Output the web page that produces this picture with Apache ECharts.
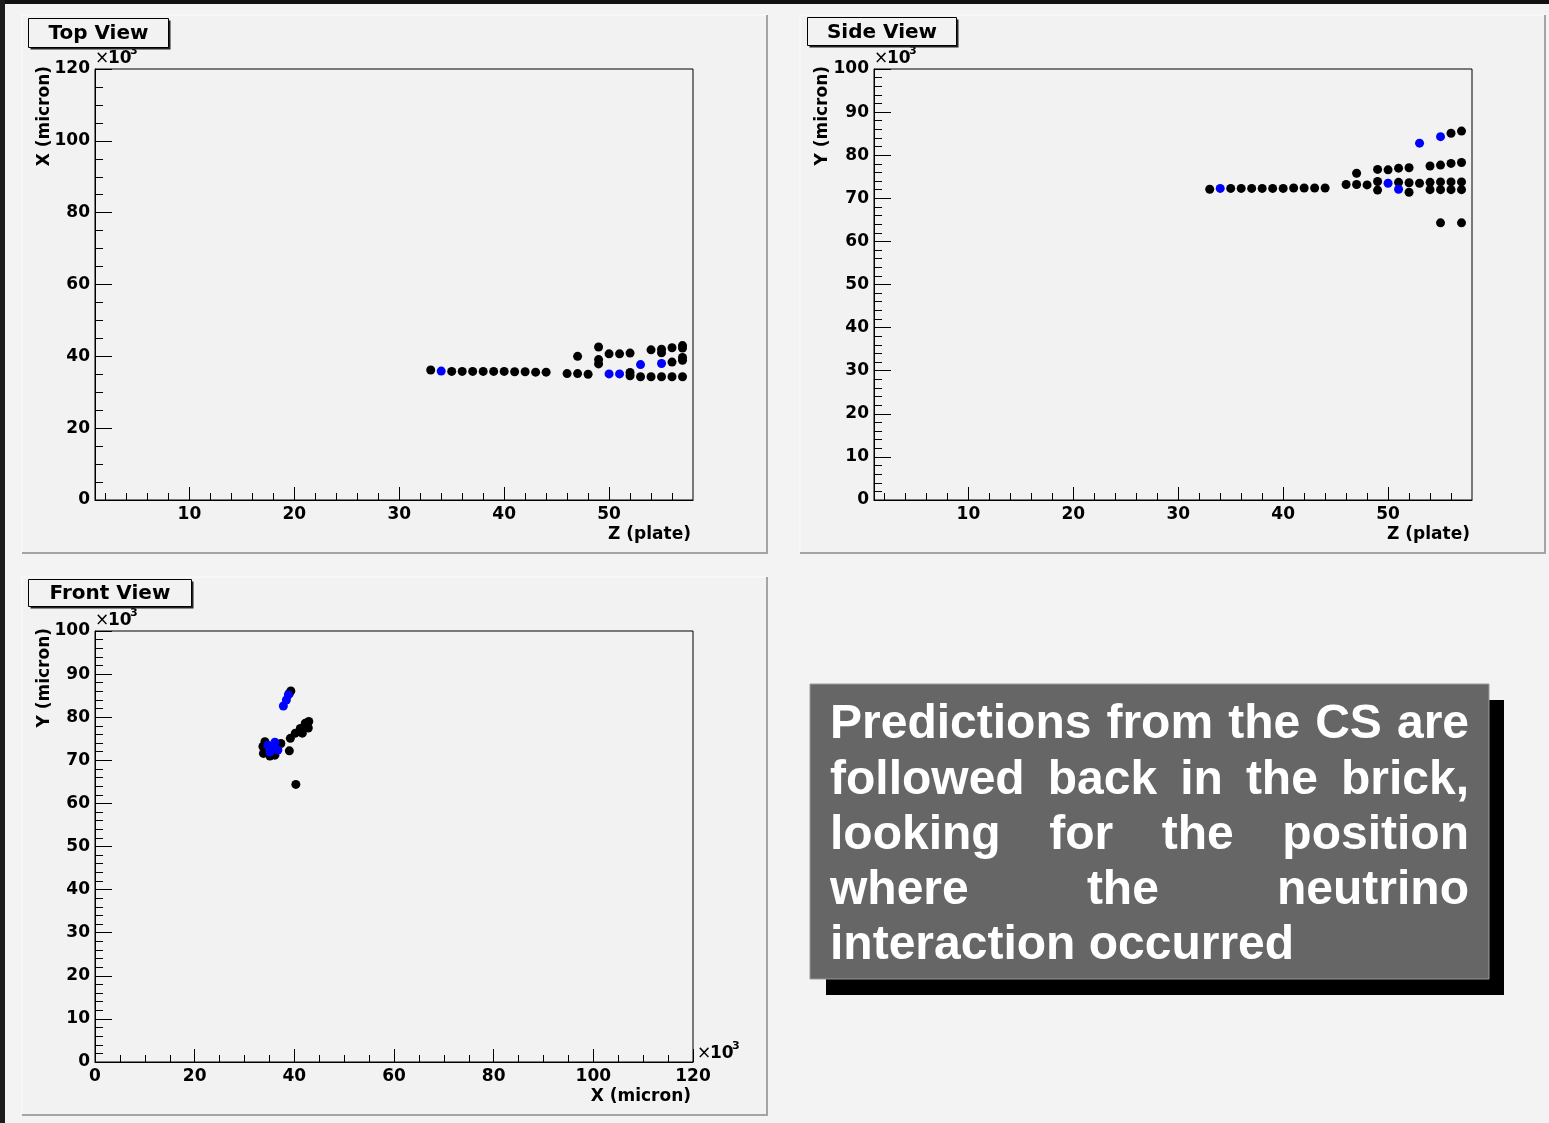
<!DOCTYPE html>
<html><head><meta charset="utf-8">
<script src="https://cdn.jsdelivr.net/npm/echarts@6/dist/echarts.min.js"></script>
<style>html,body{margin:0;padding:0;background:#f3f3f3;overflow:hidden}#chart{width:1549px;height:1123px}</style>
</head><body><div id="chart"></div>
<script>
// ---- tick labels ----
const zMajorTicks = [10, 20, 30, 40, 50];
const zMinorTicks = [2,4,6,8,12,14,16,18,22,24,26,28,32,34,36,38,42,44,46,48,52,54,56];

// ---- Top view: [Z (plate), X (micron x1e3)] ----
const topBlack = [
  [33,36.2],[35,35.8],[36,35.8],[37,35.8],[38,35.8],[39,35.8],[40,35.8],[41,35.7],[42,35.7],[43,35.6],[44,35.6],
  [46,35.2],[47,35.2],[48,35.0],[47,40.0],
  [49,42.6],[49,39.1],[49,37.9],
  [50,40.7],[51,40.7],[52,40.9],[52,35.5],[52,34.6],
  [53,34.3],[54,41.8],[54,34.3],
  [55,42.0],[55,41.0],[55,34.3],
  [56,42.4],[56,38.4],[56,34.3],
  [57,43.0],[57,42.3],[57,39.7],[57,38.9],[57,34.3]
];
const topBlue = [[34,35.9],[50,35.1],[51,35.1],[53,37.7],[55,38.0]];

// ---- Side view: [Z (plate), Y (micron x1e3)] ----
const sideBlack = [
  [33,72.1],[35,72.3],[36,72.3],[37,72.3],[38,72.3],[39,72.3],[40,72.3],[41,72.4],[42,72.4],[43,72.4],[44,72.4],
  [46,73.2],[47,73.2],[47,75.8],[48,73.1],
  [49,76.7],[49,73.9],[49,71.9],
  [50,76.6],[51,77.0],[51,73.7],[52,77.1],[52,73.6],[52,71.4],
  [53,73.5],[54,77.5],[54,73.7],[54,72.0],
  [55,77.7],[55,73.8],[55,72.0],[55,64.3],
  [56,85.1],[56,78.1],[56,73.8],[56,72.0],
  [57,85.6],[57,78.3],[57,73.8],[57,72.0],[57,64.3]
];
const sideBlue = [[34,72.3],[50,73.5],[51,72.1],[53,82.8],[55,84.3]];

// ---- Front view: [X (micron x1e3), Y (micron x1e3)] ----
const frontBlack = [
  [33.7,73.2],[34.1,74.3],[33.8,71.6],[35.1,71.0],[36.1,71.2],[37.3,73.9],[39.0,72.2],
  [39.2,75.1],[40.2,76.3],[41.2,77.4],[41.6,76.3],[42.2,78.6],[42.8,77.5],[42.9,79.0],
  [40.3,64.4],[39.3,86.1],[39.0,85.5]
];
const frontBlue = [[38.8,85.2],[38.4,84.0],[37.8,82.6],[34.7,73.5],[36.1,74.2],[36.7,72.4],[35.1,71.9],[35.5,72.8]];

// ---- texts ----
const noteLines = [
  "Predictions from the CS are",
  "followed back in the brick,",
  "looking for the position",
  "where the neutrino",
  "interaction occurred"
];

const FONT = "DejaVu Sans";
const lblStyle = {color:'#000', fontFamily:FONT, fontWeight:'bold', fontSize:17};

function yAx(grid, max, interval, minorSplit) {
  return {
    type:'value', gridIndex:grid, min:0, max:max, interval:interval, position:'left',
    axisLine:{show:true, onZero:false, lineStyle:{color:'#000', width:1}},
    axisTick:{show:true, inside:true, length:17, lineStyle:{color:'#000', width:1}},
    minorTick:{show:true, splitNumber:minorSplit, length:8, lineStyle:{color:'#000', width:1}},
    axisLabel:Object.assign({margin:5, padding:[5,0,0,0]}, lblStyle),
    splitLine:{show:false}, minorSplitLine:{show:false}
  };
}
function zMajor(grid) {
  return {
    type:'value', gridIndex:grid, min:1, max:58, position:'bottom',
    axisLine:{show:true, onZero:false, lineStyle:{color:'#000', width:1}},
    axisTick:{show:true, inside:true, length:13, customValues:zMajorTicks, lineStyle:{color:'#000', width:1}},
    axisLabel:Object.assign({margin:6, customValues:zMajorTicks}, lblStyle),
    splitLine:{show:false}
  };
}
function zMinor(grid) {
  return {
    type:'value', gridIndex:grid, min:1, max:58, position:'bottom',
    axisLine:{show:false},
    axisTick:{show:true, inside:true, length:7, customValues:zMinorTicks, lineStyle:{color:'#000', width:1}},
    axisLabel:{show:false},
    splitLine:{show:false}
  };
}

const gridBox = {show:true, borderColor:'#000', borderWidth:1, backgroundColor:'transparent', containLabel:false, outerBoundsMode:'none'};

// ---- graphics ----
const graphics = [];
graphics.push({type:'rect', z:-20, shape:{x:0,y:0,width:1549,height:4}, style:{fill:'#111'}});
graphics.push({type:'rect', z:-20, shape:{x:0,y:0,width:5,height:1123}, style:{fill:'#1c1c1c'}});

function panel(x, y, w, h) {
  graphics.push({type:'rect', z:-10, shape:{x:x,y:y,width:w,height:h}, style:{fill:'#f2f2f2', stroke:null}});
  graphics.push({type:'polyline', z:-9, shape:{points:[[x,y+h],[x,y],[x+w,y]]}, style:{stroke:'#fbfbfb', lineWidth:1, fill:null}});
  graphics.push({type:'polyline', z:-9, shape:{points:[[x+w,y],[x+w,y+h],[x,y+h]]}, style:{stroke:'#a4a4a4', lineWidth:2, fill:null}});
}
panel(22, 15, 745, 538);
panel(800, 15, 745, 538);
panel(22, 577, 745, 538);

function titleBox(x, y, w, h, text) {
  graphics.push({type:'rect', z:19, shape:{x:x+2,y:y+2,width:w,height:h}, style:{fill:'#222'}});
  graphics.push({type:'rect', z:20, shape:{x:x,y:y,width:w,height:h}, style:{fill:'#f2f2f2', stroke:'#000', lineWidth:1}});
  graphics.push({type:'text', z:21, style:{x:x+w/2, y:y+h/2+1, text:text, fill:'#000', font:'bold 20px "DejaVu Sans"', align:'center', verticalAlign:'middle'}});
}
titleBox(28.5, 18.5, 140, 29, "Top View");
titleBox(807.5, 17.5, 149, 28, "Side View");
titleBox(28.5, 579.5, 163, 27, "Front View");

function txt(x, y, text, size, align, rot, weight) {
  graphics.push({type:'text', z:15, x:x, y:y, rotation:rot||0,
    style:{x:0, y:0, text:text, fill:'#000', font:(weight||'bold')+' '+size+'px "DejaVu Sans"', align:align, verticalAlign:'middle'}});
}
function expo(x, y) {
  txt(x, y, "\u00d7", 17, 'left', 0, 'normal');
  txt(x + 13, y, "10", 17, 'left', 0);
  txt(x + 35, y - 8, "3", 11, 'left', 0);
}
expo(95, 59);
expo(874, 59);
expo(95, 621);
expo(697, 1054);
// axis names
txt(45, 66, "X (micron)", 17, 'right', Math.PI/2);
txt(823, 66, "Y (micron)", 17, 'right', Math.PI/2);
txt(45, 628, "Y (micron)", 17, 'right', Math.PI/2);
txt(691, 535, "Z (plate)", 17, 'right', 0);
txt(1470, 535, "Z (plate)", 17, 'right', 0);
txt(691, 1097, "X (micron)", 17, 'right', 0);

// note box
graphics.push({type:'rect', z:30, shape:{x:826,y:700,width:678,height:295}, style:{fill:'#000'}});
graphics.push({type:'rect', z:31, shape:{x:810,y:684,width:679,height:295}, style:{fill:'#666666', stroke:'#9a9a9a', lineWidth:1}});
const noteFont = 'bold 48px "Liberation Sans"';
const cv = document.createElement('canvas').getContext('2d');
cv.font = noteFont;
const L = 830, R = 1469;
noteLines.forEach(function(line, i) {
  const yc = 725 + i * 55.3;
  const words = line.split(' ');
  const widths = words.map(function(w){ return cv.measureText(w).width; });
  const total = widths.reduce(function(a,b){return a+b;}, 0);
  const justify = i < noteLines.length - 1;
  const gap = justify ? (R - L - total) / (words.length - 1) : cv.measureText(' ').width;
  let x = L;
  words.forEach(function(w, k) {
    graphics.push({type:'text', z:32, style:{x:x, y:yc, text:w, fill:'#fff', font:noteFont, align:'left', verticalAlign:'middle'}});
    x += widths[k] + gap;
  });
});

const sym = {symbol:'circle', symbolSize:9, silent:true, animation:false};
function sc(data, xi, yi, color) {
  return Object.assign({type:'scatter', xAxisIndex:xi, yAxisIndex:yi, data:data, itemStyle:{color:color, opacity:1}}, sym);
}

const chart = echarts.init(document.getElementById('chart'), null, {renderer:'canvas'});
chart.setOption({
  animation:false,
  backgroundColor:'#f3f3f3',
  grid:[
    Object.assign({left:95, top:69, width:598, height:431}, gridBox),
    Object.assign({left:874, top:69, width:598, height:431}, gridBox),
    Object.assign({left:95, top:631, width:598, height:431}, gridBox)
  ],
  xAxis:[
    zMajor(0), zMinor(0), zMajor(1), zMinor(1),
    {
      type:'value', gridIndex:2, min:0, max:120, interval:20, position:'bottom',
      axisLine:{show:true, onZero:false, lineStyle:{color:'#000', width:1}},
      axisTick:{show:true, inside:true, length:13, lineStyle:{color:'#000', width:1}},
      minorTick:{show:true, splitNumber:4, length:7, lineStyle:{color:'#000', width:1}},
      axisLabel:Object.assign({margin:6}, lblStyle),
      splitLine:{show:false}, minorSplitLine:{show:false}
    }
  ],
  yAxis:[ yAx(0, 120, 20, 4), yAx(1, 100, 10, 5), yAx(2, 100, 10, 5) ],
  series:[
    sc(topBlack, 0, 0, '#000000'), sc(topBlue, 0, 0, '#0000ff'),
    sc(sideBlack, 2, 1, '#000000'), sc(sideBlue, 2, 1, '#0000ff'),
    sc(frontBlack, 4, 2, '#000000'), sc(frontBlue, 4, 2, '#0000ff')
  ],
  graphic:{elements:graphics}
});
</script></body></html>
